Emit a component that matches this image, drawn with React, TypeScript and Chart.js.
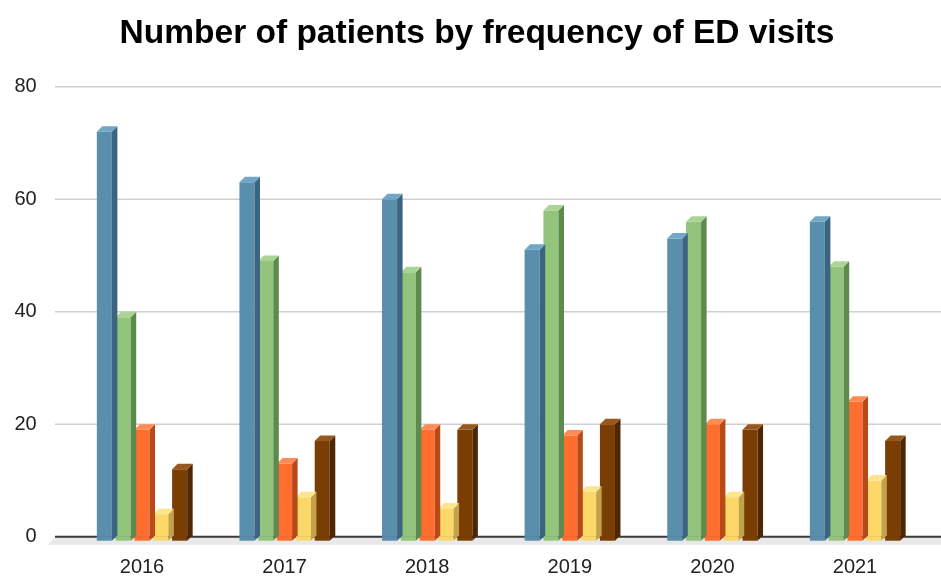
import { useEffect, useRef } from "react";
import { Chart, registerables } from "chart.js";

Chart.register(...registerables);

const years = ["2016", "2017", "2018", "2019", "2020", "2021"];
const seriesA = [72, 63, 60, 51, 53, 56];
const seriesB = [39, 49, 47, 58, 56, 48];
const seriesC = [19, 13, 19, 18, 20, 24];
const seriesD = [4, 7, 5, 8, 7, 10];
const seriesE = [12, 17, 19, 20, 19, 17];
const seriesNames = ["Series 1", "Series 2", "Series 3", "Series 4", "Series 5"];
const yTicks = [0, 20, 40, 60, 80];
const titleText = "Number of patients by frequency of ED visits";

const fronts = ["#598ead", "#92c47c", "#ff6e2e", "#fdd767", "#7a3e05"];
const sides = ["#3b6480", "#5e8a4e", "#b84a18", "#c2a349", "#4d2703"];
const tops = ["#70a6c6", "#a9d493", "#ff8b55", "#ffe48f", "#96581e"];

const DX = 5.5;
const DY = 5.5;
const EXT = 4;
const FONT = "'Liberation Sans', Arial, Helvetica, sans-serif";

const threeD = {
  id: "threeD",
  beforeDatasetsDraw(chart: any) {
    const { ctx, scales, width } = chart;
    const y = scales.y;
    ctx.save();
    ctx.strokeStyle = "#d0d0d0";
    ctx.lineWidth = 1.5;
    for (const v of yTicks) {
      if (v === 0) continue;
      const py = y.getPixelForValue(v);
      ctx.beginPath();
      ctx.moveTo(55, py);
      ctx.lineTo(width, py);
      ctx.stroke();
    }
    const z = y.getPixelForValue(0);
    ctx.fillStyle = "#e8e8e8";
    ctx.beginPath();
    ctx.moveTo(55, z);
    ctx.lineTo(width, z);
    ctx.lineTo(width, z + 8);
    ctx.lineTo(48, z + 8);
    ctx.closePath();
    ctx.fill();
    ctx.strokeStyle = "#3a3a3a";
    ctx.lineWidth = 2;
    ctx.beginPath();
    ctx.moveTo(55, z);
    ctx.lineTo(width, z);
    ctx.stroke();
    ctx.restore();
  },
  afterDatasetDraw(chart: any, args: any) {
    const { ctx } = chart;
    const i = args.index;
    const meta = args.meta;
    ctx.save();
    meta.data.forEach((bar: any) => {
      const { x, y, base, width } = bar.getProps(["x", "y", "base", "width"], true);
      const l = x - width / 2;
      const r = x + width / 2;
      ctx.fillStyle = fronts[i];
      ctx.fillRect(l, base - 0.5, width, EXT + 0.5);
      ctx.fillStyle = sides[i];
      ctx.beginPath();
      ctx.moveTo(r, y);
      ctx.lineTo(r + DX, y - DY);
      ctx.lineTo(r + DX, base + EXT - DY);
      ctx.lineTo(r, base + EXT);
      ctx.closePath();
      ctx.fill();
      ctx.fillStyle = tops[i];
      ctx.beginPath();
      ctx.moveTo(l, y);
      ctx.lineTo(l + DX, y - DY);
      ctx.lineTo(r + DX, y - DY);
      ctx.lineTo(r, y);
      ctx.closePath();
      ctx.fill();
    });
    ctx.restore();
  },
};

export default function App() {
  const ref = useRef<HTMLCanvasElement | null>(null);
  useEffect(() => {
    if (!ref.current) return;
    const seriesValues = [seriesA, seriesB, seriesC, seriesD, seriesE];
    const chart = new Chart(ref.current, {
      type: "bar",
      data: {
        labels: years,
        datasets: seriesValues.map((d, i) => ({
          label: seriesNames[i],
          data: d,
          backgroundColor: fronts[i],
          borderWidth: 0,
          categoryPercentage: 0.66,
          barPercentage: 0.8,
          yAxisID: "y",
        })),
      },
      options: {
        animation: false,
        responsive: false,
        maintainAspectRatio: false,
        devicePixelRatio: 1,
        layout: { padding: { left: 13, right: 0, top: 0, bottom: 0 } },
        plugins: {
          legend: { display: false },
          tooltip: { enabled: false },
          title: {
            display: true,
            text: titleText,
            color: "#000",
            font: { family: FONT, size: 33.5, weight: "bold", lineHeight: 1.2 },
            padding: { top: 13.5, bottom: 33 },
          },
        },
        scales: {
          x: {
            grid: { display: false, drawTicks: false },
            border: { display: false },
            ticks: { color: "#222", font: { family: FONT, size: 20 }, padding: 19 },
            afterFit: (s: any) => {
              s.height = 39.3;
            },
          },
          y: {
            min: 0,
            max: 80,
            grid: { display: false, drawTicks: true, tickLength: 34 },
            border: { display: false },
            ticks: { stepSize: 20, color: "#222", font: { family: FONT, size: 20 }, padding: 0 },
            afterFit: (s: any) => {
              s.width = 57.7;
            },
          },
          yRight: {
            type: "linear",
            position: "right",
            display: true,
            grid: { display: false, drawTicks: false },
            border: { display: false },
            ticks: { display: false },
            afterFit: (s: any) => {
              s.width = 14.7;
            },
          },
        },
      },
      plugins: [threeD],
    });
    return () => chart.destroy();
  }, []);
  return (
    <div style={{ position: "fixed", left: 0, top: 0, width: 941, height: 576, background: "#fff" }}>
      <canvas ref={ref} width={941} height={576} style={{ display: "block", width: 941, height: 576 }} />
    </div>
  );
}
